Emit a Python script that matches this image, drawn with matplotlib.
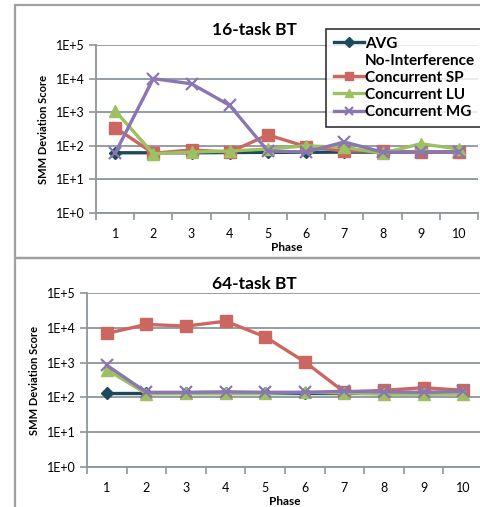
import matplotlib
matplotlib.use("Agg")
import matplotlib.pyplot as plt
from matplotlib.patches import Rectangle
from matplotlib.lines import Line2D

phases = [1, 2, 3, 4, 5, 6, 7, 8, 9, 10]
tick_labels = ["1E+0", "1E+1", "1E+2", "1E+3", "1E+4", "1E+5"]
series_names = ["AVG", "Concurrent SP", "Concurrent LU", "Concurrent MG"]
avg_subtitle = "No-Interference"

bt16_avg = [62, 62, 62, 63, 64, 64, 65, 65, 65, 65]
bt16_sp = [350, 60, 75, 65, 210, 95, 70, 70, 65, 65]
bt16_lu = [1100, 58, 65, 70, 80, 100, 90, 60, 115, 80]
bt16_mg = [60, 10000, 7000, 1600, 70, 65, 130, 65, 65, 65]

bt64_avg = [137, 137, 137, 137, 137, 137, 137, 137, 137, 137]
bt64_sp = [6900, 12500, 11200, 15500, 5500, 1050, 142, 160, 190, 160]
bt64_lu = [630, 128, 130, 130, 130, 140, 135, 125, 125, 125]
bt64_mg = [840, 140, 140, 145, 140, 140, 150, 145, 140, 150]

colors = ["#1A4A5C", "#CC6660", "#9DC060", "#8A76B2"]
markers = ["D", "s", "^", "x"]
msizes = [6, 8, 8, 8]

plt.rcParams['font.family'] = ['Lato', 'DejaVu Sans']

W, H = 481, 507
fig = plt.figure(figsize=(W / 100, H / 100), dpi=100)
fig.patch.set_facecolor("white")

for (y0, y1) in [(5, 258), (258, 520)]:
    fig.patches.append(Rectangle((15 / W, 1 - y1 / H), 1.0, (y1 - y0) / H,
                                 transform=fig.transFigure, fill=False,
                                 edgecolor="#A0A0A0", lw=1.6, zorder=0))

def make_panel(rect, title, data, title_pad, legend=False):
    l, t, r, b = rect
    ax = fig.add_axes([l / W, 1 - b / H, (r - l) / W, (b - t) / H])
    ax.set_yscale("log")
    ax.set_ylim(1, 1e5)
    ax.set_xlim(0.5, 10.5)
    lines = []
    for vals, c, m, ms in zip(data, colors, markers, msizes):
        ln, = ax.plot(phases, vals, color=c, lw=2.4, marker=m, markersize=ms,
                      markeredgewidth=1.6 if m == "x" else 1, markeredgecolor=c,
                      clip_on=False)
        lines.append(ln)
    ax.set_yticks([1, 10, 100, 1000, 10000, 100000])
    ax.set_yticklabels(tick_labels)
    ax.minorticks_off()
    ax.set_xticks(phases)
    ax.set_xticklabels([str(p) for p in phases])
    ax.set_xticks([p + 0.5 for p in range(0, 11)], minor=True)
    ax.tick_params(axis="x", which="major", length=0, pad=11, labelsize=9)
    ax.tick_params(axis="x", which="minor", length=5, color="#8E959B", width=1.2)
    ax.tick_params(axis="y", length=5, color="#8E959B", width=1.2, labelsize=9, pad=3)
    ax.grid(axis="y", color="#8E959B", lw=1.3)
    ax.set_axisbelow(True)
    for s in ["top", "right"]:
        ax.spines[s].set_visible(False)
    for s in ["left", "bottom"]:
        ax.spines[s].set_color("#8E959B")
        ax.spines[s].set_linewidth(1.3)
    ax.set_xlabel("Phase", fontsize=8.5, fontweight="bold", labelpad=1)
    ax.set_ylabel("SMM Deviation Score", fontsize=8, fontweight="bold", labelpad=5)
    ax.set_title(title, fontsize=12.5, fontweight="bold", pad=title_pad,
                 x=(254 - l) / (r - l))
    if legend:
        blank = Line2D([], [], color="none")
        handles = [lines[0], blank, lines[1], lines[2], lines[3]]
        labels = [series_names[0], avg_subtitle] + series_names[1:]
        leg = fig.legend(handles, labels, loc="upper left",
                         bbox_to_anchor=(326 / W, 1 - 29 / H), borderaxespad=0,
                         frameon=True, fancybox=False, edgecolor="black",
                         prop={"weight": "bold", "size": 11}, handlelength=2.0,
                         handletextpad=0.05, labelspacing=0.2, borderpad=0.5,
                         markerscale=0.8)
        leg.get_frame().set_linewidth(1.2)
    return ax

make_panel((96, 45, 478, 213), "16-task BT", [bt16_avg, bt16_sp, bt16_lu, bt16_mg], 7, legend=True)
make_panel((87, 293, 483, 467), "64-task BT", [bt64_avg, bt64_sp, bt64_lu, bt64_mg], 3)

fig.savefig("out.png", dpi=100)
